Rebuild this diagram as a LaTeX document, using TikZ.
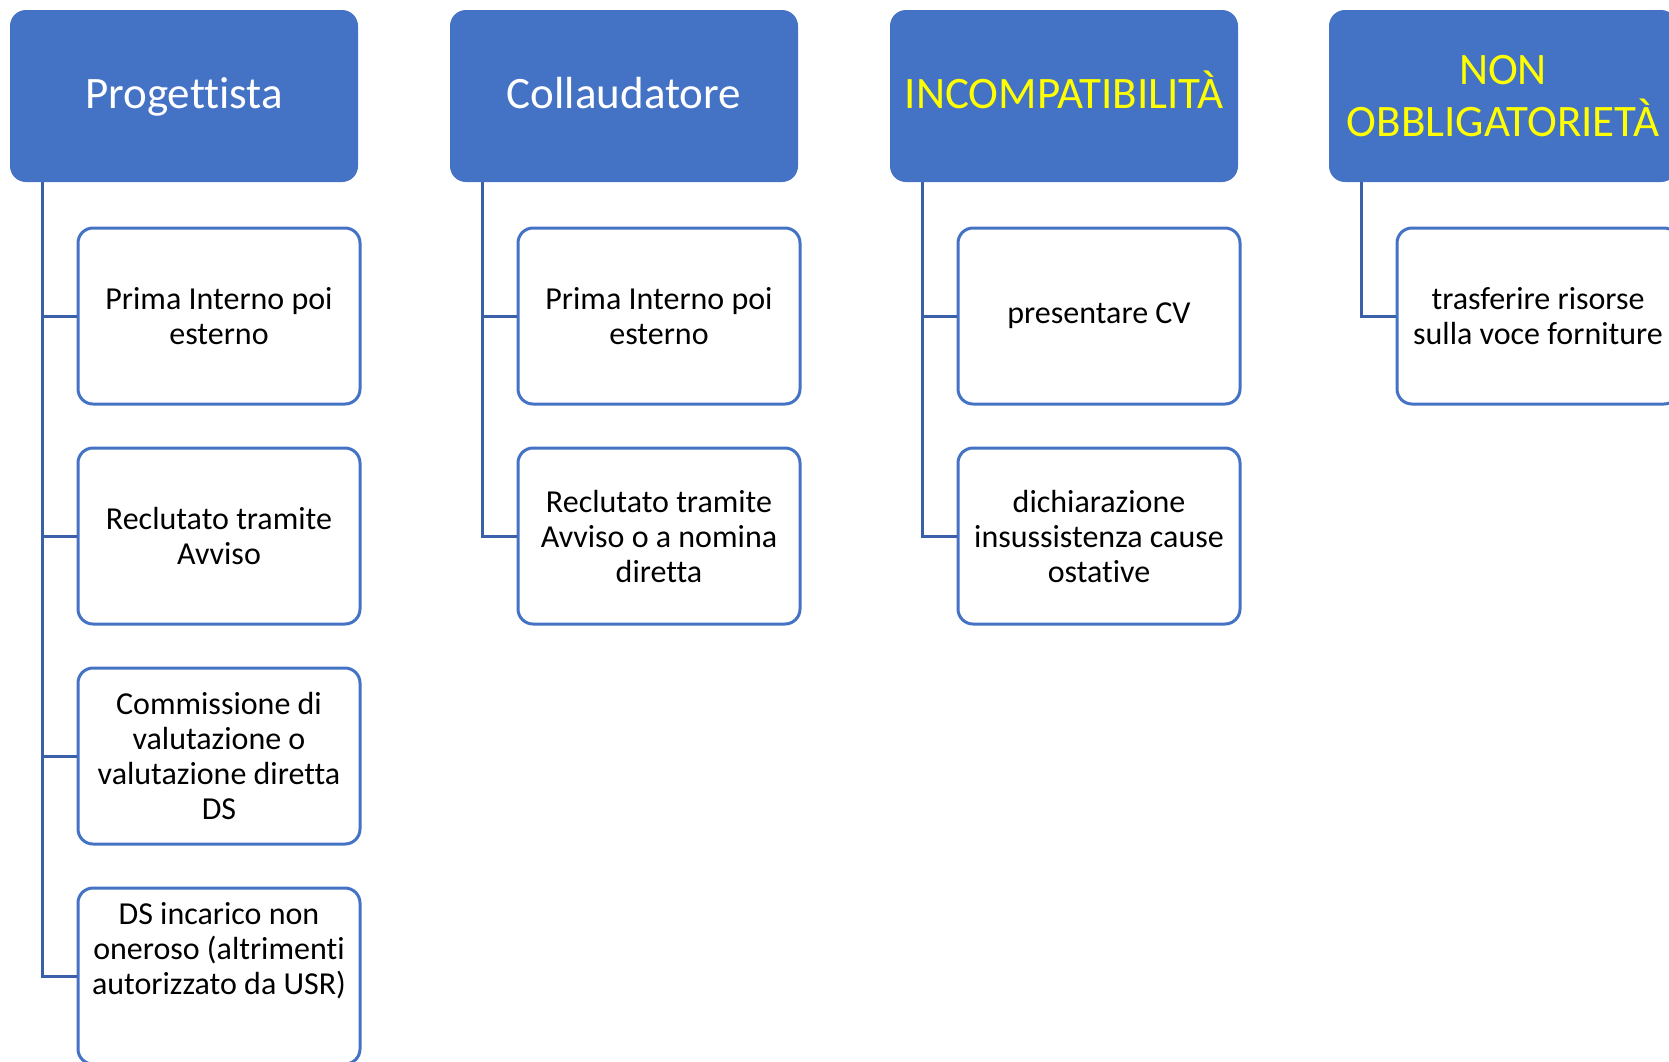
\documentclass[tikz,border=0pt]{standalone}
\usepackage{fontspec}
\setmainfont{Carlito}[RawFeature={-liga;-clig;-dlig;-calt}]
\definecolor{hdrblue}{HTML}{4472C4}
\definecolor{connblue}{HTML}{3A60AA}
\definecolor{hdryellow}{HTML}{FFFF00}
\begin{document}
\begin{tikzpicture}[x=1pt,y=-1pt,
  hdr/.style={draw=none,fill=hdrblue,rounded corners=16pt,minimum width=348pt,minimum height=172pt,
    inner sep=0pt,align=center,font=\fontsize{45}{52}\selectfont,text=white},
  hdrone/.style={text height=32pt,text depth=8pt},
  hdry/.style={hdr,text=hdryellow},
  child/.style={draw=hdrblue,line width=3pt,fill=white,rounded corners=15pt,minimum width=282pt,
    minimum height=176pt,inner sep=0pt,align=center,font=\fontsize{32}{35}\selectfont,text=black},
  ctext/.style={inner sep=0pt,align=center,font=\fontsize{32}{35}\selectfont,text=black},
  conn/.style={draw=connblue,line width=3pt}]
\useasboundingbox (0,0) rectangle (1669,1061);
% headers
\node[hdr,hdrone]  (h1) at (184,96)  {Progettista};
\node[hdr,hdrone]  (h2) at (624,96)  {Collaudatore};
\node[hdry,hdrone] (h3) at (1064,96) {INCOMPATIBILITÀ};
\node[hdry] (h4) at (1503,96) {NON\\OBBLIGATORIETÀ};
% column 1
\node[child] (a1) at (219,316) {Prima Interno poi\\esterno};
\node[child] (a2) at (219,536) {Reclutato tramite\\Avviso};
\node[child] (a3) at (219,756) {Commissione di\\valutazione o\\valutazione diretta\\DS};
\node[child] (a4) at (219,976) {};
\node[ctext] (a4t) at (219,951) {DS incarico non\\oneroso (altrimenti\\autorizzato da USR)};
% column 2
\node[child] (b1) at (659,316) {Prima Interno poi\\esterno};
\node[child] (b2) at (659,536) {Reclutato tramite\\Avviso o a nomina\\diretta};
% column 3
\node[child] (c1) at (1099,316) {presentare CV};
\node[child] (c2) at (1099,536) {dichiarazione\\insussistenza cause\\ostative};
% column 4
\node[child] (d1) at (1538,316) {trasferire risorse\\sulla voce forniture};
% connectors
\foreach \h/\c in {h1/a1,h1/a2,h1/a3,h1/a4,h2/b1,h2/b2,h3/c1,h3/c2}
  \draw[conn] (\h.south west) ++(33,0) |- (\c.west);
\draw[conn] (h4.south west) ++(33,0) |- (d1.west);
\end{tikzpicture}
\end{document}
